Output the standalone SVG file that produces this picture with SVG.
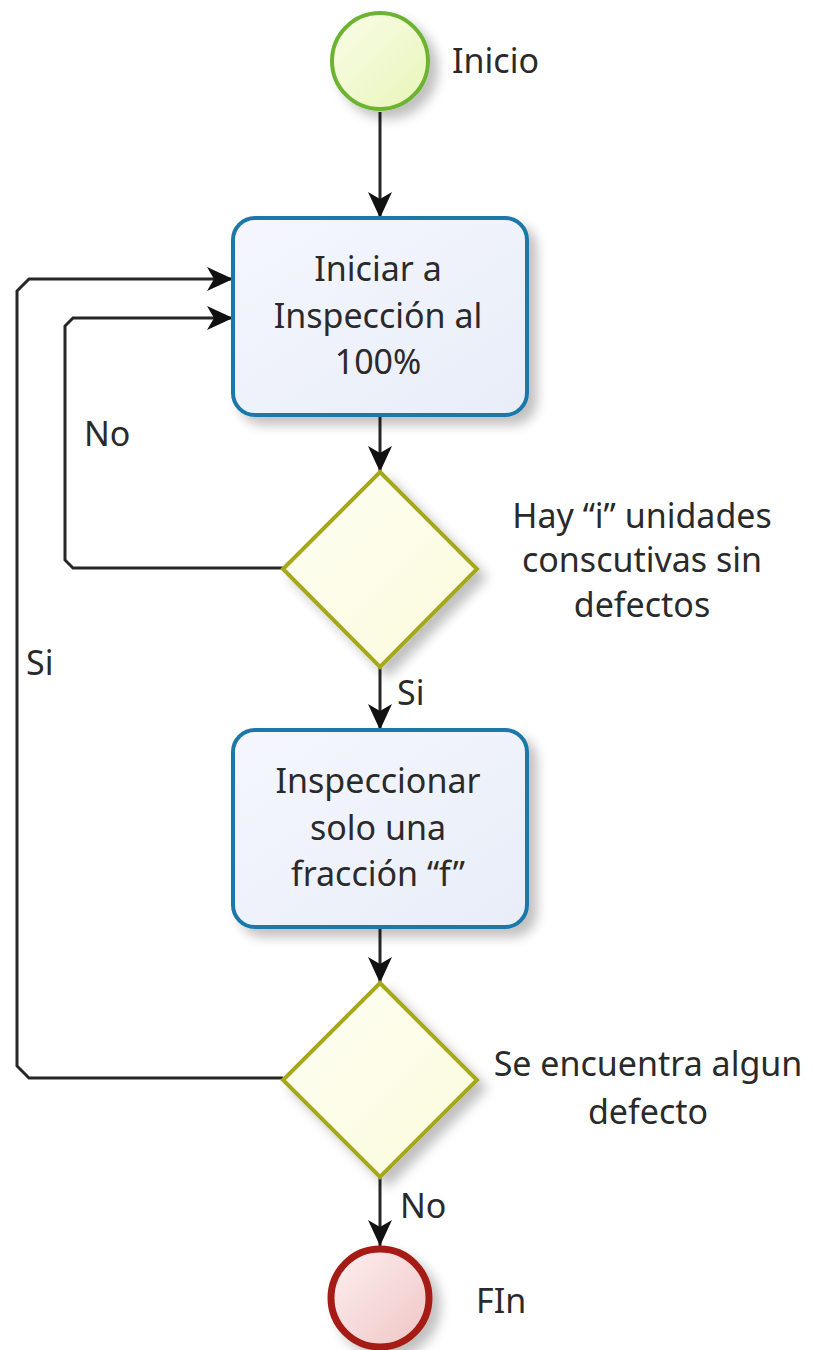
<svg xmlns="http://www.w3.org/2000/svg" width="813" height="1350" viewBox="0 0 813 1350">
<style>
text{font-family:"Noto Sans","Open Sans",sans-serif;font-size:34px;fill:#2a2a2a;text-anchor:middle}
.lbl{text-anchor:start}
.task{fill:url(#gTask);stroke:#1b78a8;stroke-width:4}
.gw{fill:url(#gGw);stroke:#a6a81c;stroke-width:4;stroke-linejoin:miter}
.edge{fill:none;stroke:#262626;stroke-width:3}
</style>
<defs>
<linearGradient id="gStart" x1="0" y1="0" x2="1" y2="1"><stop offset="0" stop-color="#fafde8"/><stop offset="1" stop-color="#e8f5b8"/></linearGradient>
<linearGradient id="gEnd" x1="0" y1="0" x2="1" y2="1"><stop offset="0" stop-color="#fdf0f0"/><stop offset="1" stop-color="#f0c4c4"/></linearGradient>
<linearGradient id="gTask" x1="0" y1="0" x2="1" y2="1"><stop offset="0" stop-color="#f5f7fd"/><stop offset="1" stop-color="#e8edf8"/></linearGradient>
<linearGradient id="gGw" x1="0" y1="0" x2="1" y2="1"><stop offset="0" stop-color="#fefef4"/><stop offset="1" stop-color="#fbfbdc"/></linearGradient>
<filter id="sh" x="-20%" y="-20%" width="150%" height="150%"><feGaussianBlur in="SourceAlpha" stdDeviation="6"/><feOffset dx="8" dy="8"/><feComponentTransfer><feFuncA type="linear" slope="0.25"/></feComponentTransfer><feMerge><feMergeNode/><feMergeNode in="SourceGraphic"/></feMerge></filter>
<marker id="arr" viewBox="0 0 26 24" refX="26" refY="12" markerWidth="26" markerHeight="24" markerUnits="userSpaceOnUse" orient="auto"><path d="M0,0 L26,12 L0,24 L7,12 Z" fill="#111"/></marker>
</defs>

<g id="connectors">
<path class="edge" d="M380,112 V218" marker-end="url(#arr)"/>
<path class="edge" d="M380,415 V472" marker-end="url(#arr)"/>
<path class="edge" d="M380,667 V730" marker-end="url(#arr)"/>
<path class="edge" d="M380,927 V983" marker-end="url(#arr)"/>
<path class="edge" d="M380,1177 V1246" marker-end="url(#arr)"/>
<path class="edge" d="M283,568 H73 L65,560 V326 L73,318 H233" marker-end="url(#arr)"/>
<path class="edge" d="M283,1078 H29 L17,1066 V291 L29,279 H233" marker-end="url(#arr)"/>
<text class="lbl" x="84" y="446">No</text>
<text class="lbl" x="26" y="675">Si</text>
<text class="lbl" x="397" y="705">Si</text>
<text class="lbl" x="400" y="1218">No</text>
</g>

<g id="start">
<circle cx="380" cy="61" r="48" fill="url(#gStart)" stroke="#6cb330" stroke-width="4" filter="url(#sh)"/>
<text class="lbl" x="452" y="73">Inicio</text>
</g>

<g id="task1">
<rect class="task" x="233" y="218" width="294" height="197" rx="22" filter="url(#sh)"/>
<text x="378" y="281">Iniciar a</text>
<text x="378" y="328">Inspección al</text>
<text x="378" y="374">100%</text>
</g>

<g id="gw1">
<polygon class="gw" points="380,472 477,569 380,667 283,569" filter="url(#sh)"/>
<text x="642" y="528">Hay “i” unidades</text>
<text x="642" y="572">conscutivas sin</text>
<text x="642" y="617">defectos</text>
</g>

<g id="task2">
<rect class="task" x="233" y="730" width="294" height="197" rx="22" filter="url(#sh)"/>
<text x="378" y="793">Inspeccionar</text>
<text x="378" y="840">solo una</text>
<text x="378" y="886">fracción “f”</text>
</g>

<g id="gw2">
<polygon class="gw" points="380,983 477,1080 380,1177 283,1080" filter="url(#sh)"/>
<text x="648" y="1076">Se encuentra algun</text>
<text x="648" y="1124">defecto</text>
</g>

<g id="end">
<circle cx="380" cy="1298" r="49" fill="url(#gEnd)" stroke="#a51d12" stroke-width="7" filter="url(#sh)"/>
<text class="lbl" x="476" y="1313">FIn</text>
</g>
</svg>
